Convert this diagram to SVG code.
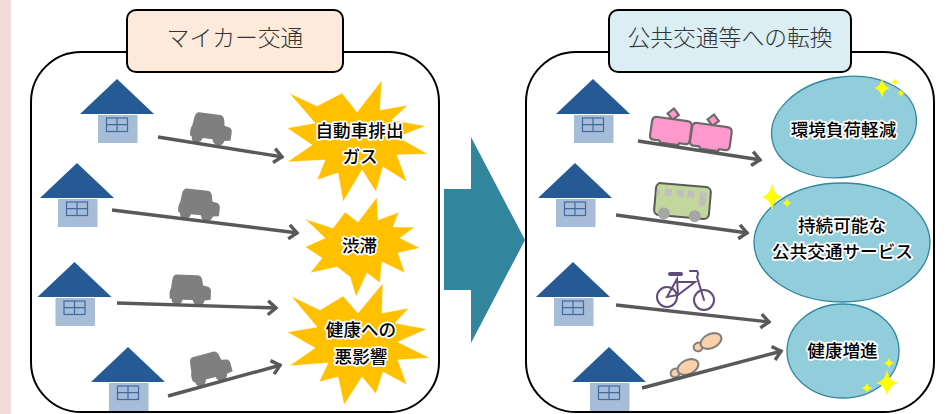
<svg xmlns="http://www.w3.org/2000/svg" width="950" height="414" viewBox="0 0 950 414">
<style>
text{font-family:"Noto Sans CJK JP","Noto Sans",sans-serif;text-anchor:middle}
.panel{fill:#fff;stroke:#000;stroke-width:2}
.title{stroke:#000;stroke-width:2}
.tt{font-size:22.8px;font-weight:300;fill:#333}
.lb{font-size:17.6px;font-weight:500;fill:#000;stroke:#fff;stroke-width:3.5px;stroke-linejoin:round;paint-order:stroke}
.star{fill:#ffc000;stroke:#fff;stroke-width:.6}
.oval{fill:#92cddc;stroke:#31859c;stroke-width:1.3}
.arrow{fill:none;stroke:#595959;stroke-width:3.4;marker-end:url(#head)}
.spark{fill:#ffff00}
.car{fill:#7f7f7f}
.pink{fill:#ff99cc;stroke:#6b6b6b;stroke-width:2.2}
.foot{fill:#fcd0a8;stroke:#7f7f7f;stroke-width:2}
.bike{fill:none;stroke:#604a7b;stroke-width:2;stroke-linecap:round}
</style>
<defs>
<marker id="head" markerUnits="userSpaceOnUse" markerWidth="20" markerHeight="20" refX="15" refY="10" orient="auto" overflow="visible">
<path d="M6,3 L14,10 L6,17" fill="none" stroke="#595959" stroke-width="3.400"/>
</marker>
<g id="house">
<rect x="-19" y="36" width="39.500" height="28" fill="#a7bcd6"/>
<polygon points="0,0 37,35 -37,35" fill="#255a94"/>
<rect x="-10.500" y="39" width="21" height="13.500" fill="none" stroke="#3f6ba3" stroke-width="1.200"/>
<path d="M-10.500,45.700H10.500M0,39V52.500" stroke="#3f6ba3" stroke-width="1.200"/>
</g>
<path id="carshape" class="car" d="M-14,-15 L7,-15 Q11,-15 12,-10 L13,-5 L18,-4 Q21,-3 21,1 L21,9 L15,10 Q14,15 9,15 Q4,15 3,10 L-7,10 Q-8,15 -13,15 Q-18,15 -18,10 L-20,9 Q-21,2 -19,-1 L-18,-10 Q-17,-15 -14,-15Z"/>
<path id="sp" class="spark" d="M0,-10 Q1.500,-1.500 10,0 Q1.500,1.500 0,10 Q-1.500,1.500 -10,0 Q-1.500,-1.500 0,-10Z"/>
<g id="tram">
<rect x="-4" y="-20" width="8" height="8" transform="rotate(45 0 -16)" class="pink"/>
<path class="pink" d="M-15,-11 H15 Q20,-11 20,-6 V8 Q20,12 16,12 H10 L9,14 H-9 L-10,12 H-16 Q-20,12 -20,8 V-6 Q-20,-11 -15,-11Z"/>
</g>
<g id="shoe">
<ellipse cx="-14" cy="0" rx="4.800" ry="4.200" class="foot"/>
<ellipse cx="0" cy="0" rx="11" ry="7" class="foot"/>
</g>
</defs>
<rect x="0" y="0" width="11" height="414" fill="#f2dcdb"/>

<g id="panel-left">
<rect class="panel" x="31" y="52" width="408" height="360" rx="50"/>
</g>
<g id="panel-right">
<rect class="panel" x="526" y="52" width="408" height="360" rx="50"/>
</g>
<g id="big-arrow">
<polygon points="444,189 471,189 471,137 525,240 471,343 471,290 444,290" fill="#31859c"/>
</g>
<g id="title-left">
<rect class="title" x="127" y="10" width="216" height="62" rx="9" fill="#fdeada"/>
<text class="tt" x="235" y="46">マイカー交通</text>
</g>
<g id="title-right">
<rect class="title" x="609" y="10" width="242" height="62" rx="9" fill="#daeef3"/>
<text class="tt" x="730" y="46">公共交通等への転換</text>
</g>

<g id="house-l1"><use href="#house" x="117" y="79"/></g>
<g id="house-l2"><use href="#house" x="77" y="163"/></g>
<g id="house-l3"><use href="#house" x="74.500" y="262"/></g>
<g id="house-l4"><use href="#house" x="128" y="347"/></g>
<g id="house-r1"><use href="#house" x="593" y="79"/></g>
<g id="house-r2"><use href="#house" x="575" y="163"/></g>
<g id="house-r3"><use href="#house" x="573" y="262"/></g>
<g id="house-r4"><use href="#house" x="609" y="347"/></g>

<g id="car1"><use href="#carshape" transform="translate(211 129) rotate(8)"/></g>
<g id="car2"><use href="#carshape" transform="translate(199 205) rotate(6)"/></g>
<g id="car3"><use href="#carshape" transform="translate(190 290) rotate(2)"/></g>
<g id="car4"><use href="#carshape" transform="translate(210 368) rotate(-15)"/></g>

<g id="train">
<use href="#tram" transform="translate(671 130) rotate(8)"/>
<use href="#tram" transform="translate(711 136) rotate(8)"/>
</g>
<g id="bus" transform="translate(682 201) rotate(5)">
<rect x="-27" y="-16" width="55" height="32" rx="5" fill="#c3d69b" stroke="#595959" stroke-width="2"/>
<g fill="#bfbfbf"><rect x="-26" y="-10" width="3" height="6"/><rect x="-18" y="-11" width="7" height="7"/><rect x="-6" y="-11" width="7" height="7"/><rect x="5" y="-11" width="7" height="7"/><rect x="17" y="-10" width="7" height="13"/></g>
<circle cx="-17" cy="14" r="6" fill="#a6a6a6"/><circle cx="14" cy="14" r="6" fill="#a6a6a6"/>
</g>
<g id="bicycle" class="bike">
<circle cx="667" cy="297" r="10"/><circle cx="704" cy="300" r="10"/>
<path d="M667,297 L677,279 L678,295 Z M678,295 L695,282 L677,282 M697,277 L704,300 M690,271 H697 Q699,273 697,277"/>
<path d="M670,274 H681" stroke-width="4"/>
</g>
<g id="footprints">
<use href="#shoe" transform="translate(711 341) rotate(-25)"/>
<use href="#shoe" transform="translate(688 367) rotate(-25)"/>
</g>

<g id="connectors">
<line class="arrow" x1="158" y1="137" x2="283" y2="157"/>
<line class="arrow" x1="112" y1="210" x2="298" y2="233"/>
<line class="arrow" x1="117" y1="303" x2="277" y2="308"/>
<line class="arrow" x1="168" y1="396" x2="281" y2="365"/>
<line class="arrow" x1="638" y1="141" x2="761" y2="160"/>
<line class="arrow" x1="616" y1="215" x2="748" y2="233"/>
<line class="arrow" x1="616" y1="305" x2="770" y2="322"/>
<line class="arrow" x1="642" y1="388" x2="782" y2="351"/>
</g>

<g id="star-exhaust">
<polygon class="star" points="289,93 317,106 342,93 357,112 382,80 380,110 408,105 392,120 426,126 398,137 428,154 397,155 407,182 383,167 376,192 362,170 343,202 338,173 317,180 325,160 287,162 312,145 287,128 315,123"/>
<text class="lb" x="359.500" y="137">自動車排出</text>
<text class="lb" x="360" y="163">ガス</text>
</g>
<g id="star-congestion">
<polygon class="star" points="305,219 333,228 345,212 358,222 377,197 378,220 399,212 393,227 415,227 400,238 420,248 398,253 405,273 382,262 380,283 367,273 356,297 350,277 337,267 310,273 322,258 305,247 325,238"/>
<text class="lb" x="359.500" y="252">渋滞</text>
</g>
<g id="star-health">
<polygon class="star" points="291,296 320,310 343,296 358,313 383,283 382,313 409,308 395,323 427,329 398,342 430,358 398,360 407,385 383,372 376,394 362,377 344,405 338,377 319,382 328,363 289,366 315,348 287,332 317,327"/>
<text class="lb" x="361" y="336">健康への</text>
<text class="lb" x="361" y="363">悪影響</text>
</g>

<g id="oval-env">
<ellipse class="oval" cx="844" cy="127" rx="73" ry="50" transform="rotate(-10 844 127)"/>
<text class="lb" x="843.500" y="136">環境負荷軽減</text>
<use href="#sp" transform="translate(882 88) scale(.8 1)"/>
<use href="#sp" transform="translate(895 82) scale(.4)"/>
<use href="#sp" transform="translate(901 93) scale(.4)"/>
</g>
<g id="oval-service">
<ellipse class="oval" cx="842" cy="242.500" rx="88" ry="59.500"/>
<text class="lb" x="842" y="232">持続可能な</text>
<text class="lb" x="842.500" y="258">公共交通サービス</text>
<use href="#sp" transform="translate(772 197) scale(1 1.400)"/>
<use href="#sp" transform="translate(787 203) scale(.5)"/>
</g>
<g id="oval-health">
<ellipse class="oval" cx="843" cy="351" rx="56" ry="47"/>
<text class="lb" x="842.500" y="357">健康増進</text>
<use href="#sp" transform="translate(887 383) scale(1.100 1.300)"/>
<use href="#sp" transform="translate(889 363) scale(.55)"/>
<use href="#sp" transform="translate(867 388) scale(.55)"/>
</g>
</svg>
